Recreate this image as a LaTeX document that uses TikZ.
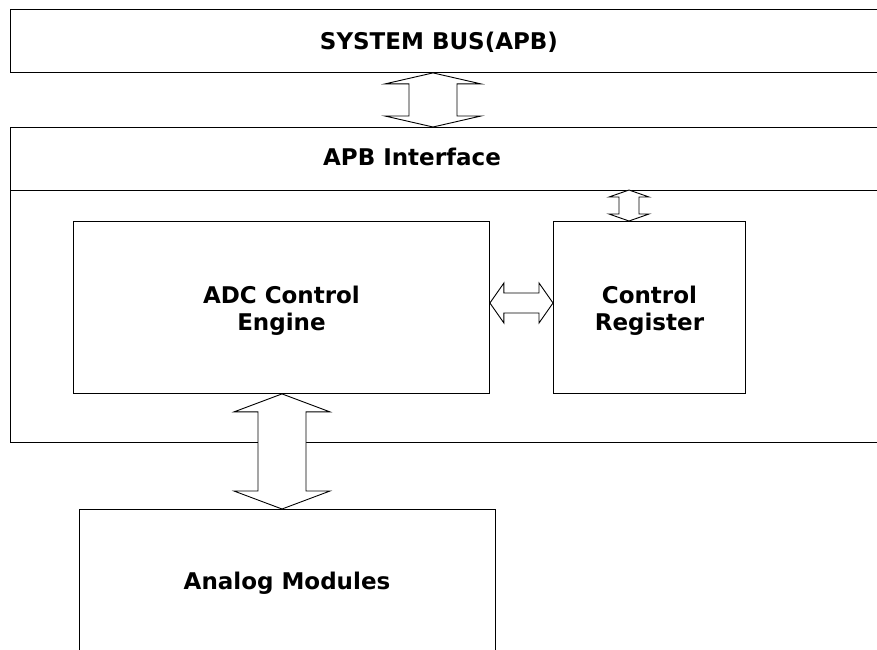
\documentclass[tikz,border=0pt]{standalone}
\usepackage{fontspec}
\setmainfont{DejaVu Sans}
\usetikzlibrary{calc}

% fat double arrow between two tips: #1,#2 tips, #3 half shaft, #4 half head, #5 head length
\newcommand{\fatarrow}[5]{%
  \coordinate (h1) at ($(#1)!#5!(#2)$);
  \coordinate (h2) at ($(#2)!#5!(#1)$);
  \draw [fill=white] (#1) -- ($(h1)!#4!90:(#2)$) -- ($(h1)!#3!90:(#2)$)
        -- ($(h2)!#3!-90:(#1)$) -- ($(h2)!#4!-90:(#1)$) -- (#2)
        -- ($(h2)!#4!90:(#1)$) -- ($(h2)!#3!90:(#1)$)
        -- ($(h1)!#3!-90:(#2)$) -- ($(h1)!#4!-90:(#2)$) -- cycle;}

\begin{document}
\begin{tikzpicture}[x=1pt,y=-1pt,line width=0.9pt,
    box/.style={draw,anchor=north west,inner sep=0pt},
    lbl/.style={font=\bfseries\fontsize{23}{27}\selectfont,align=center}]
      \useasboundingbox (0,0) rectangle (877,649);
      \clip (0,0) rectangle (877,649);
      % bus and interface
      \node [box,minimum width=900pt,minimum height=63pt] (bus) at (10,9) {};
      \node [lbl] (buslbl) at (439,42) {SYSTEM BUS(APB)};
      \node [box,minimum width=900pt,minimum height=315pt] (apb) at (10,127) {};
      \draw (apb.north west) ++(0,63) coordinate (div) -- ++(900,0);
      \node [lbl] (apblbl) at (412,157) {APB Interface};
      % blocks
      \node [box,minimum width=416pt,minimum height=172pt] (engine) at (73,221) {};
      \node [lbl] (enginelbl) at ($(engine.center)+(0,3)$) {ADC Control\\Engine};
      \node [box,minimum width=192pt,minimum height=172pt] (reg) at (553,221) {};
      \node [lbl] (reglbl) at ($(reg.center)+(0,3)$) {Control\\Register};
      \node [box,minimum width=416pt,minimum height=200pt] (analog) at (79,509) {};
      \node [lbl] (analoglbl) at (287,583) {Analog Modules};
      % double arrows
      \coordinate (t1) at (bus.south -| 433,0);
      \coordinate (t2) at (apb.north -| 433,0);
      \fatarrow{t1}{t2}{24pt}{48pt}{11pt}
      \coordinate (t3) at (div -| 629,0);
      \coordinate (t4) at (reg.north -| 629,0);
      \fatarrow{t3}{t4}{10pt}{20pt}{7pt}
      \coordinate (t5) at (engine.east |- 0,303);
      \coordinate (t6) at (reg.west |- 0,303);
      \fatarrow{t5}{t6}{10pt}{20pt}{14pt}
      \coordinate (t7) at (engine.south -| 282,0);
      \coordinate (t8) at (analog.north -| 282,0);
      \fatarrow{t7}{t8}{24pt}{48pt}{18pt}
\end{tikzpicture}
\end{document}
